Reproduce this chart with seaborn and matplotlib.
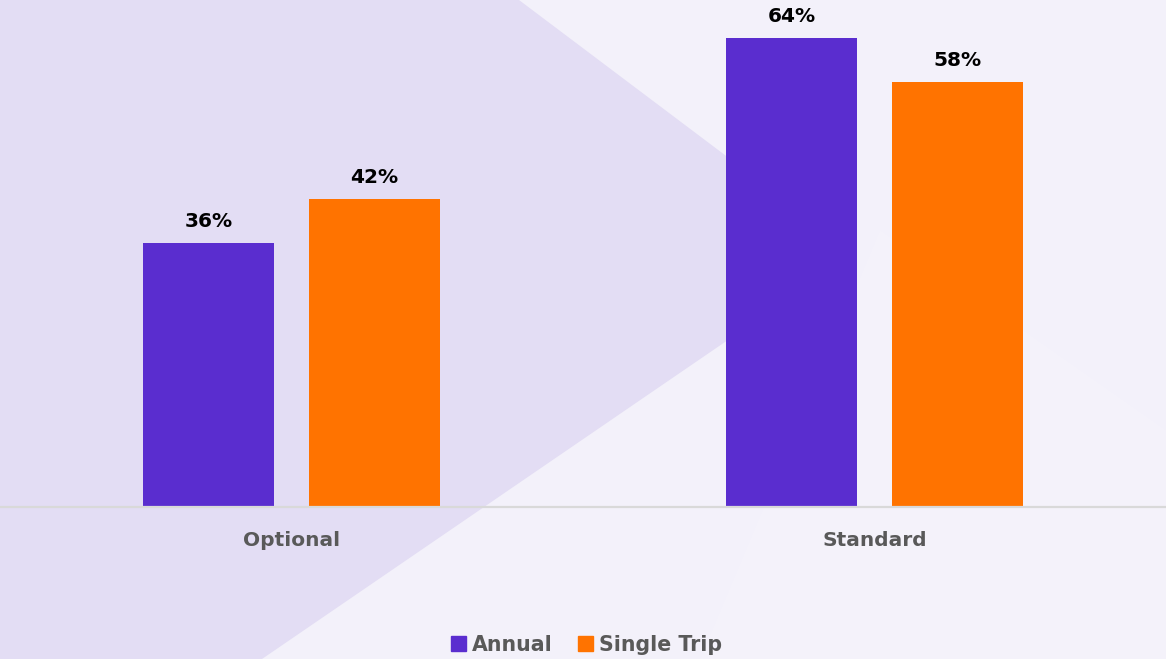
import matplotlib
matplotlib.use("Agg")
import matplotlib.pyplot as plt
from matplotlib.patches import Polygon
import seaborn as sns
import pandas as pd

# ---- data ----
categories = ["Optional", "Standard"]
series_names = ["Annual", "Single Trip"]
annual = [36, 64]
single_trip = [42, 58]

colors = {"Annual": "#5A2DCF", "Single Trip": "#FF7300"}

df = pd.DataFrame({
    "category": categories * 2,
    "series": [series_names[0]] * len(categories) + [series_names[1]] * len(categories),
    "value": annual + single_trip,
})

sns.set_style("white")
plt.rcParams["font.family"] = ["DejaVu Sans"]

fig = plt.figure(figsize=(11.66, 6.59), dpi=100)
fig.patch.set_facecolor("#F3F1FA")

# background decoration on a full-figure axes (pixel coordinates)
W, H = 1166, 659
bg = fig.add_axes([0, 0, 1, 1], zorder=0)
bg.set_xlim(0, W)
bg.set_ylim(H, 0)
bg.axis("off")
bg.add_patch(Polygon([(0, 0), (519, 0), (855, 253), (262, 659), (0, 659)],
                     closed=True, facecolor="#E3DDF4", edgecolor="none"))
bg.add_patch(Polygon([(880, 230), (1166, 430), (1166, 659), (700, 659)],
                     closed=True, facecolor="#F4F2FA", edgecolor="none"))

ax = fig.add_axes([0, 152 / H, 1, 507 / H], zorder=1)
ax.set_facecolor("none")

sns.barplot(data=df, x="category", y="value", hue="series", order=categories,
            hue_order=series_names, palette=colors, width=0.57, gap=0.21,
            saturation=1, linewidth=0, ax=ax, legend=False)

ax.set_xlim(-0.5, 1.5)
ax.set_ylim(0, 69.2)
ax.set_xlabel("")
ax.set_ylabel("")
ax.set_yticks([])
for s in ["top", "left", "right"]:
    ax.spines[s].set_visible(False)
ax.spines["bottom"].set_color("#D9D9D9")
ax.spines["bottom"].set_linewidth(1.6)
ax.tick_params(axis="x", length=0, pad=17, labelsize=14.5, labelcolor="#595959")
for lbl in ax.get_xticklabels():
    lbl.set_fontweight("bold")

for cont in ax.containers:
    ax.bar_label(cont, labels=[f"{v:.0f}%" for v in cont.datavalues],
                 padding=9, fontsize=14.5, fontweight="bold", color="#000000")

handles = [plt.Rectangle((0, 0), 1, 1, color=colors[n]) for n in series_names]
leg = fig.legend(handles, series_names, loc="center", bbox_to_anchor=(0.503, 1 - 645 / H),
                 ncol=2, frameon=False, handlelength=0.72, handleheight=0.72,
                 handletextpad=0.3, columnspacing=1.2, borderpad=0,
                 prop={"size": 14.8, "weight": "bold"}, labelcolor="#595959")
leg.set_zorder(3)

fig.savefig("out.png", dpi=100, facecolor=fig.get_facecolor())
